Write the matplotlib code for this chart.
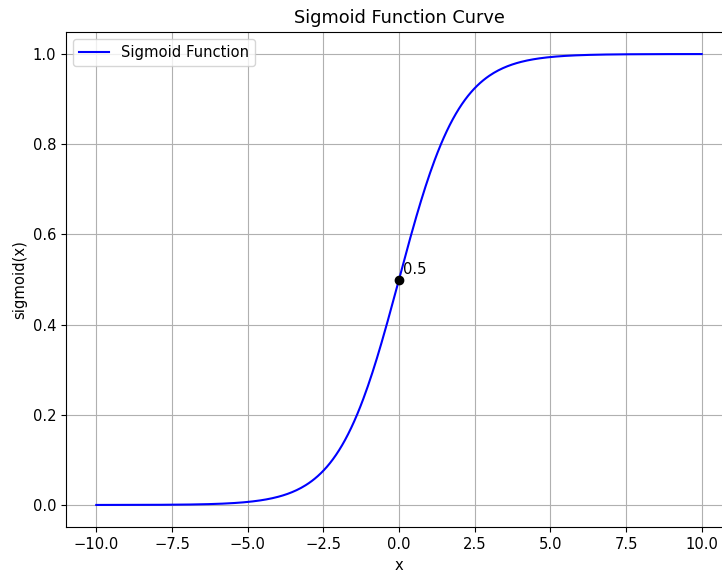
import numpy as np
import matplotlib
matplotlib.use("Agg")
import matplotlib.pyplot as plt

plt.rcParams["font.size"] = 10.65

# curve: the sigmoid over [-10, 10]
x_start, x_end = -10, 10
x_values = np.linspace(x_start, x_end, 400)
y_values = 1 / (1 + np.exp(-x_values))

# marked point
mark_x = [0]
mark_y = [0.5]
mark_label = "0.5"

fig = plt.figure(figsize=(7.22, 5.71), dpi=100)
ax = fig.add_axes([0.0914, 0.0762, 0.9224, 0.8686])

ax.plot(x_values, y_values, color="blue", label="Sigmoid Function")
ax.scatter(mark_x, mark_y, color="black", zorder=5)
ax.annotate(mark_label, (mark_x[0], mark_y[0]), xytext=(3, 4),
            textcoords="offset points")

ax.set_title("Sigmoid Function Curve")
ax.set_xlabel("x")
ax.set_ylabel("sigmoid(x)")
ax.legend(loc="upper left")
ax.grid(True)

fig.savefig("out.png", dpi=100)
